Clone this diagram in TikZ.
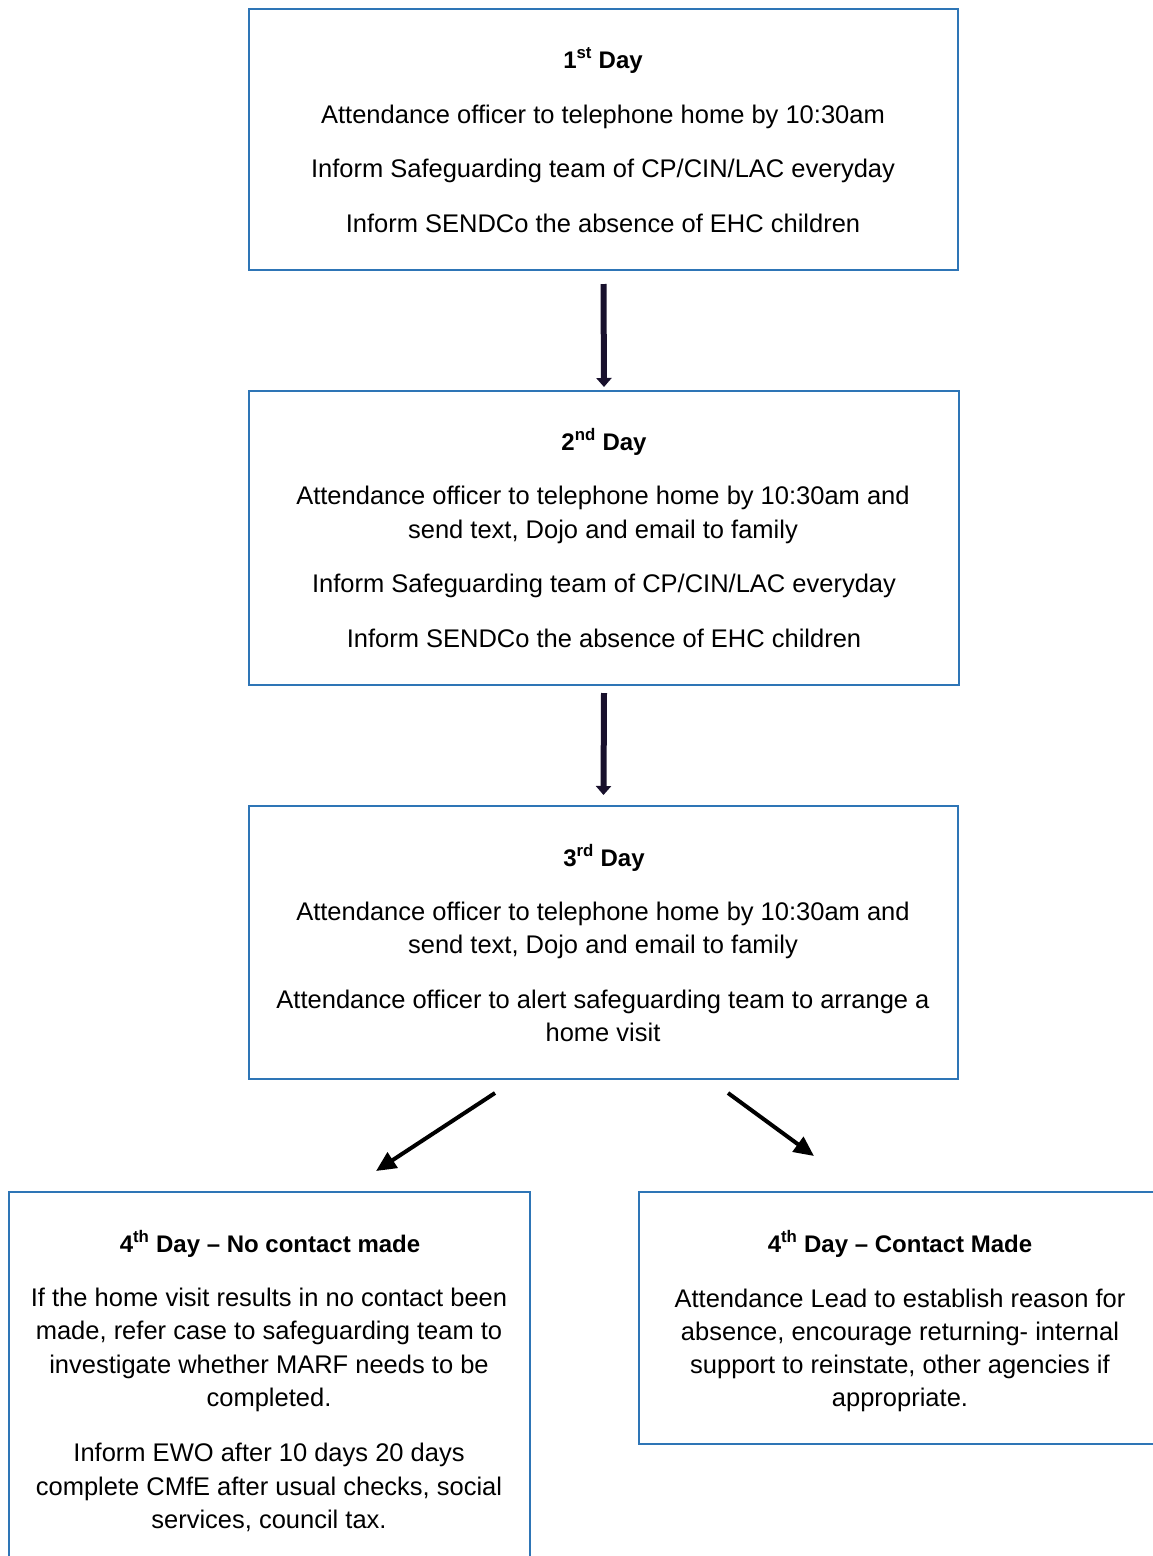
\documentclass[tikz,border=0pt]{standalone}
\usepackage{fontspec}
\setmainfont{Liberation Sans}
\usetikzlibrary{arrows.meta}
\definecolor{boxblue}{RGB}{46,117,182}
\definecolor{navy}{RGB}{24,16,44}
\tikzset{
  box/.style={draw=boxblue, line width=2pt, rectangle, inner sep=0pt, outer sep=0pt},
  txt/.style={anchor=base, inner sep=0pt, font=\fontsize{25.5}{33.5}\selectfont},
  ttl/.style={anchor=base, inner sep=0pt, font=\fontsize{24}{33.5}\selectfont\bfseries},
  arrv/.style={draw=navy, line width=6pt, -{Triangle[length=9pt,width=15pt]}},
  arrd/.style={draw=black, line width=4pt, -{Triangle[length=20pt,width=18pt]}}
}
\begin{document}
\begin{tikzpicture}[x=1pt,y=-1pt]
\clip (0,0) rectangle (1153,1556);
\fill[white] (0,0) rectangle (1153,1556);
% boxes
\node[box, minimum width=709pt, minimum height=261pt] (b1) at (603.5,139.5) {};
\node[box, minimum width=710pt, minimum height=294pt] (b2) at (604,538) {};
\node[box, minimum width=709pt, minimum height=273pt] (b3) at (603.5,942.5) {};
\node[box, minimum width=521pt, minimum height=408pt] (b4) at (269.5,1396) {};
\node[box, minimum width=531pt, minimum height=252pt] (b5) at (904.5,1318) {};
% box 1
\node[ttl] (t1) at (603,68) {1\textsuperscript{st} Day};
\node[txt] (t1a) at (603,123) {Attendance officer to telephone home by 10:30am};
\node[txt] (t1b) at (603,177.5) {Inform Safeguarding team of CP/CIN/LAC everyday};
\node[txt] (t1c) at (603,232) {Inform SENDCo the absence of EHC children};
% box 2
\node[ttl] (t2) at (604,450) {2\textsuperscript{nd} Day};
\node[txt] (t2a) at (603,504) {Attendance officer to telephone home by 10:30am and};
\node[txt] (t2b) at (603,538) {send text, Dojo and email to family};
\node[txt] (t2c) at (604,592) {Inform Safeguarding team of CP/CIN/LAC everyday};
\node[txt] (t2d) at (604,647) {Inform SENDCo the absence of EHC children};
% box 3
\node[ttl] (t3) at (604,866) {3\textsuperscript{rd} Day};
\node[txt] (t3a) at (603,920) {Attendance officer to telephone home by 10:30am and};
\node[txt] (t3b) at (603,953) {send text, Dojo and email to family};
\node[txt] (t3c) at (603,1008) {Attendance officer to alert safeguarding team to arrange a};
\node[txt] (t3d) at (603,1041) {home visit};
% box 4
\node[ttl] (t4) at (270,1252) {4\textsuperscript{th} Day -- No contact made};
\node[txt] (t4a) at (269,1306) {If the home visit results in no contact been};
\node[txt] (t4b) at (269,1339.5) {made, refer case to safeguarding team to};
\node[txt] (t4c) at (269,1373) {investigate whether MARF needs to be};
\node[txt] (t4d) at (269,1406) {completed.};
\node[txt] (t4e) at (269,1461) {Inform EWO after 10 days 20 days};
\node[txt] (t4f) at (269,1495) {complete CMfE after usual checks, social};
\node[txt] (t4g) at (269,1528) {services, council tax.};
% box 5
\node[ttl] (t5) at (900,1252) {4\textsuperscript{th} Day -- Contact Made};
\node[txt] (t5a) at (900,1307) {Attendance Lead to establish reason for};
\node[txt] (t5b) at (900,1340) {absence, encourage returning- internal};
\node[txt] (t5c) at (900,1373) {support to reinstate, other agencies if};
\node[txt] (t5d) at (900,1406) {appropriate.};
% arrows
\draw[arrv] ([yshift=-14pt]b1.south) -- ([yshift=4pt]b2.north);
\draw[arrv] ([yshift=-8pt]b2.south) -- ([yshift=11pt]b3.north);
\draw[arrd] ([xshift=-108.5pt,yshift=-14pt]b3.south) -- ([xshift=106.5pt,yshift=21pt]b4.north);
\draw[arrd] ([xshift=124.5pt,yshift=-14pt]b3.south) -- ([xshift=-90.5pt,yshift=36pt]b5.north);
\end{tikzpicture}
\end{document}
